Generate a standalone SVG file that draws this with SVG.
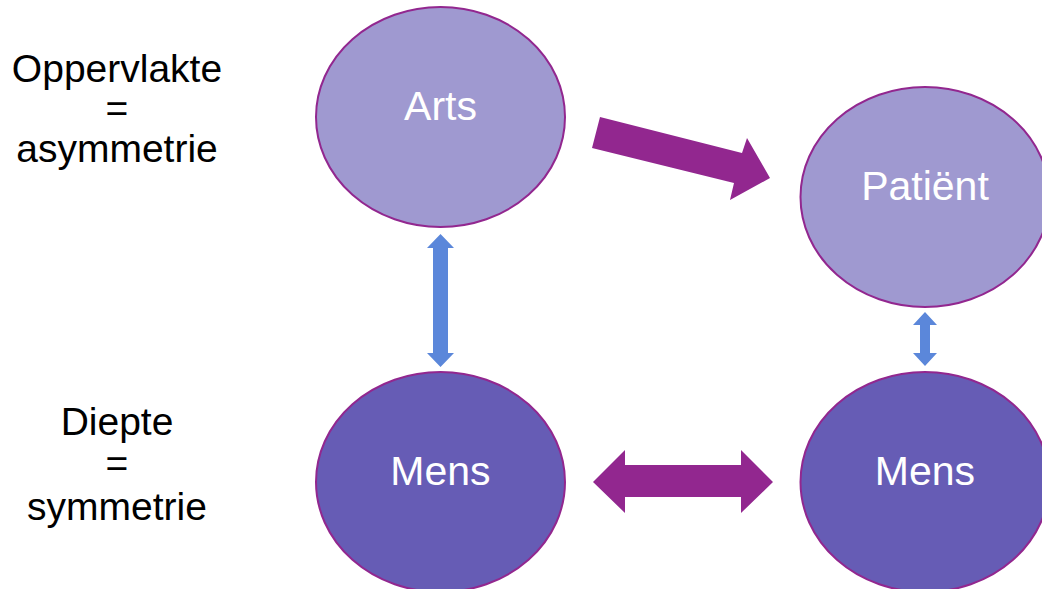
<svg xmlns="http://www.w3.org/2000/svg" width="1042" height="589" viewBox="0 0 1042 589">
  <style>
    .node ellipse { stroke: #92278F; stroke-width: 2; }
    .light { fill: #9F99D0; }
    .dark { fill: #665CB5; }
    .label { font-family: "Liberation Sans", Arial, sans-serif; font-size: 41px; fill: #FFFFFF; text-anchor: middle; }
    .side { font-family: "Liberation Sans", Arial, sans-serif; font-size: 39px; fill: #000000; text-anchor: middle; }
    .purple { fill: #92278F; }
    .blue { fill: #5B87DA; }
  </style>
  <rect width="1042" height="589" fill="#FFFFFF"/>

  <!-- side captions -->
  <g id="caption-surface">
    <text class="side" x="117" y="82">Oppervlakte</text>
    <text class="side" x="117" y="122">=</text>
    <text class="side" x="117" y="162">asymmetrie</text>
  </g>
  <g id="caption-depth">
    <text class="side" x="117" y="435">Diepte</text>
    <text class="side" x="117" y="477">=</text>
    <text class="side" x="117" y="520">symmetrie</text>
  </g>

  <!-- nodes -->
  <g id="arts" class="node">
    <ellipse class="light" cx="440.5" cy="117" rx="124.5" ry="110"/>
    <text class="label" x="440.5" y="120">Arts</text>
  </g>
  <g id="patient" class="node">
    <ellipse class="light" cx="925" cy="197" rx="124.5" ry="110"/>
    <text class="label" x="925" y="200">Patiënt</text>
  </g>
  <g id="mens-left" class="node">
    <ellipse class="dark" cx="440.5" cy="482" rx="124.5" ry="110"/>
    <text class="label" x="440.5" y="485">Mens</text>
  </g>
  <g id="mens-right" class="node">
    <ellipse class="dark" cx="925" cy="482" rx="124.5" ry="110"/>
    <text class="label" x="925" y="485">Mens</text>
  </g>

  <!-- connectors -->
  <g id="connectors">
    <!-- Arts to Patiënt: block arrow -->
    <polygon class="purple" points="600,117 742,153 747,138 770,178 730,200 734,183 592,148"/>
    <!-- Arts / Mens: vertical double arrow -->
    <polygon class="blue" points="440.5,234 454,248 448,248 448,353 454,353 440.5,367 427,353 433,353 433,248 427,248"/>
    <!-- Patiënt / Mens: short vertical double arrow -->
    <polygon class="blue" points="925,312 937,325 930,325 930,353 937,353 925,366 913,353 920,353 920,325 913,325"/>
    <!-- Mens / Mens: horizontal double arrow -->
    <polygon class="purple" points="593,482 625,450 625,465 741,465 741,450 773,482 741,513 741,497 625,497 625,513"/>
  </g>
</svg>
